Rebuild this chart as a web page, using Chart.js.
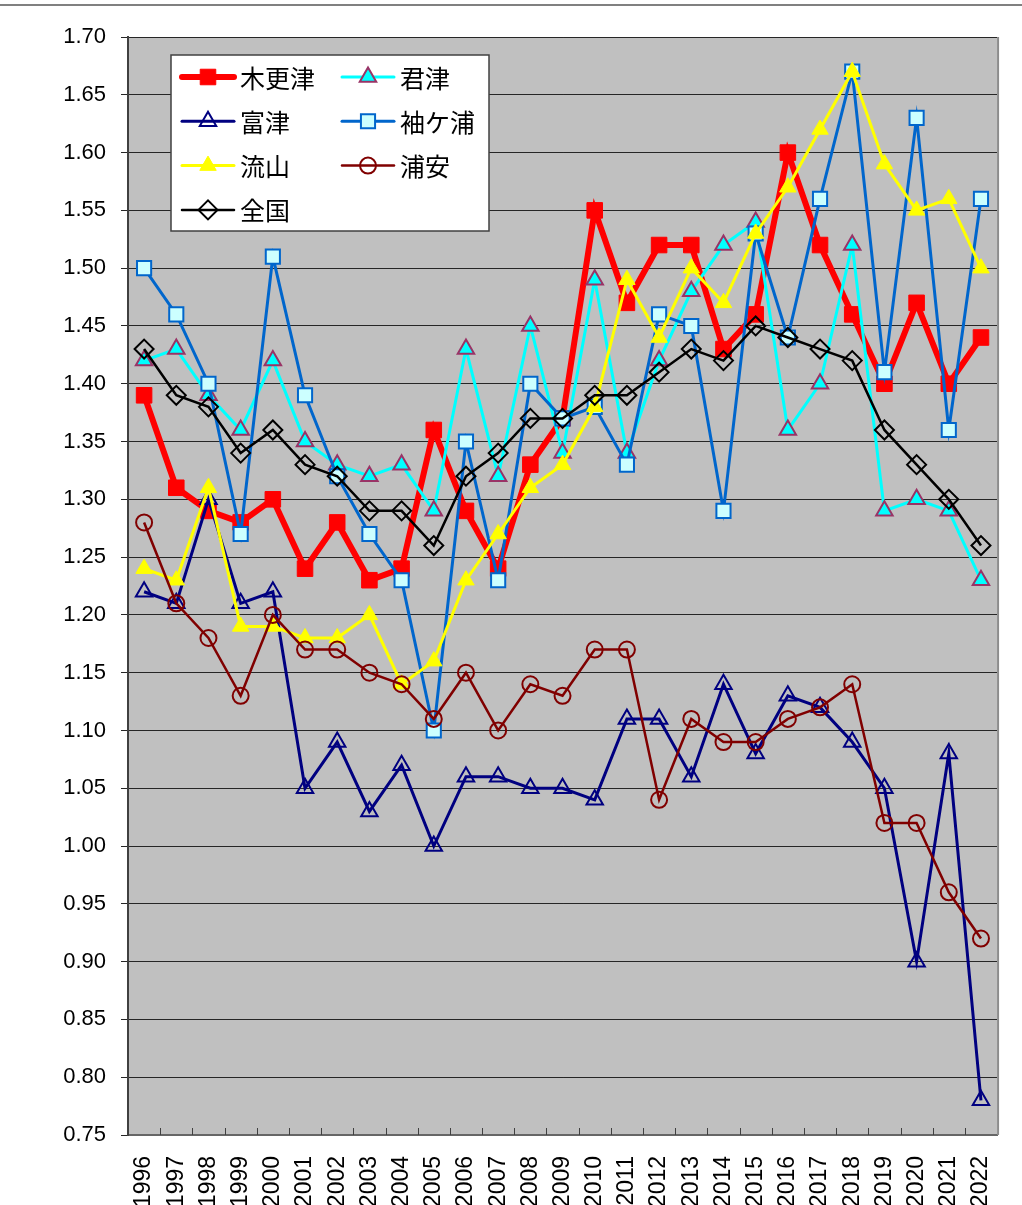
<!DOCTYPE html>
<html lang="ja">
<head>
<meta charset="utf-8">
<title>合計特殊出生率の推移</title>
<script src="https://cdn.jsdelivr.net/npm/chart.js@4.4.0/dist/chart.umd.min.js"></script>
<style>
  html, body { margin: 0; padding: 0; background: #fff; }
  #wrap { position: relative; width: 1022px; height: 1205px; }
</style>
</head>
<body>
<div id="wrap"><canvas id="tfr-chart" width="1022" height="1205"></canvas></div>
<script>
// 年次
const years = ['1996','1997','1998','1999','2000','2001','2002','2003','2004','2005','2006','2007','2008','2009',
               '2010','2011','2012','2013','2014','2015','2016','2017','2018','2019','2020','2021','2022'];

// 合計特殊出生率
const kisarazu  = [1.39,1.31,1.29,1.28,1.30,1.24,1.28,1.23,1.24,1.36,1.29,1.24,1.33,1.37,1.55,1.47,1.52,1.52,1.43,1.46,1.60,1.52,1.46,1.40,1.47,1.40,1.44];
const kimitsu   = [1.42,1.43,1.39,1.36,1.42,1.35,1.33,1.32,1.33,1.29,1.43,1.32,1.45,1.34,1.49,1.34,1.42,1.48,1.52,1.54,1.36,1.40,1.52,1.29,1.30,1.29,1.23];
const futtsu    = [1.22,1.21,1.30,1.21,1.22,1.05,1.09,1.03,1.07,1.00,1.06,1.06,1.05,1.05,1.04,1.11,1.11,1.06,1.14,1.08,1.13,1.12,1.09,1.05,0.90,1.08,0.78];
const sodegaura = [1.50,1.46,1.40,1.27,1.51,1.39,1.32,1.27,1.23,1.10,1.35,1.23,1.40,1.37,1.38,1.33,1.46,1.45,1.29,1.53,1.44,1.56,1.67,1.41,1.63,1.36,1.56];
const nagareyama= [1.24,1.23,1.31,1.19,1.19,1.18,1.18,1.20,1.14,1.16,1.23,1.27,1.31,1.33,1.38,1.49,1.44,1.50,1.47,1.53,1.57,1.62,1.67,1.59,1.55,1.56,1.50];
const urayasu   = [1.28,1.21,1.18,1.13,1.20,1.17,1.17,1.15,1.14,1.11,1.15,1.10,1.14,1.13,1.17,1.17,1.04,1.11,1.09,1.09,1.11,1.12,1.14,1.02,1.02,0.96,0.92];
const zenkoku   = [1.43,1.39,1.38,1.34,1.36,1.33,1.32,1.29,1.29,1.26,1.32,1.34,1.37,1.37,1.39,1.39,1.41,1.43,1.42,1.45,1.44,1.43,1.42,1.36,1.33,1.30,1.26];

// y軸の範囲と目盛
const yMin = 0.75;
const yMax = 1.70;
const yStep = 0.05;

const FONT = "'Noto Sans CJK JP', 'Noto Sans', sans-serif";
const NUM_FONT = "'Liberation Sans', Arial, sans-serif";
Chart.defaults.font.family = FONT;
Chart.defaults.color = '#000';

function series(label, data, color, width, shape, radius, fill, border, borderW) {
    return {
        label: label,
        data: data,
        borderColor: color,
        borderWidth: width,
        pointStyle: shape,
        pointRadius: radius,
        pointHoverRadius: radius,
        pointBackgroundColor: fill,
        pointBorderColor: border,
        pointBorderWidth: borderW,
        tension: 0,
        fill: false
    };
}

const datasets = [
    series('木更津', kisarazu,  '#ff0000', 6,   'rect',     11,  '#ff0000', '#ff0000', 1),
    series('君津',   kimitsu,   '#00ffff', 3,   'triangle', 9.5, '#00ffff', '#993366', 2),
    series('富津',   futtsu,    '#000080', 3,   'triangle', 9.5, 'rgba(0,0,0,0)', '#000080', 2),
    series('袖ケ浦', sodegaura, '#0066cc', 3,   'rect',     10,  '#ccffff', '#0066cc', 2),
    series('流山',   nagareyama,'#ffff00', 3,   'triangle', 9.5, '#ffff00', '#ffff00', 1),
    series('浦安',   urayasu,   '#800000', 2.5, 'circle',   8,   'rgba(0,0,0,0)', '#800000', 2),
    series('全国',   zenkoku,   '#000000', 2.5, 'rectRot',  9.5, 'rgba(0,0,0,0)', '#000000', 2)
];
// 後の系列を上に描く
datasets.forEach((ds, i) => { ds.order = datasets.length - i; });

// プロットエリアの背景
const plotBg = {
    id: 'plotBg',
    beforeDraw(chart) {
        const { ctx, chartArea: a } = chart;
        ctx.save();
        ctx.fillStyle = '#c0c0c0';
        ctx.fillRect(a.left, a.top, a.right - a.left, a.bottom - a.top);
        ctx.restore();
    }
};

function marker(ctx, ds, x, y) {
    ctx.fillStyle = ds.pointBackgroundColor;
    ctx.strokeStyle = ds.pointBorderColor;
    ctx.lineWidth = ds.pointBorderWidth;
    if (Chart.helpers && Chart.helpers.drawPoint) {
        Chart.helpers.drawPoint(ctx, { pointStyle: ds.pointStyle, rotation: 0, radius: ds.pointRadius, borderWidth: ds.pointBorderWidth }, x, y);
    }
}

// 枠、内向き目盛、凡例
const decorations = {
    id: 'decorations',
    afterDraw(chart) {
        const { ctx, chartArea: a } = chart;
        const xs = chart.scales.x;
        ctx.save();

        // 上端の罫線
        ctx.strokeStyle = '#808080';
        ctx.lineWidth = 2;
        ctx.beginPath();
        ctx.moveTo(0, 5); ctx.lineTo(1022, 5);
        ctx.stroke();

        // 右側の枠
        ctx.strokeStyle = '#8c8c8c';
        ctx.lineWidth = 2;
        ctx.beginPath();
        ctx.moveTo(a.right + 1, a.top); ctx.lineTo(a.right + 1, a.bottom);
        ctx.stroke();

        // x軸の目盛 (内向き)
        const step = (a.right - a.left) / years.length;
        ctx.strokeStyle = '#404040';
        ctx.lineWidth = 1;
        ctx.beginPath();
        for (let i = 1; i < years.length; i++) {
            const px = Math.round(xs.getPixelForValue(i) - step / 2) + 0.5;
            ctx.moveTo(px, a.bottom); ctx.lineTo(px, a.bottom - 7);
        }
        ctx.stroke();

        // 凡例
        const bx = 171, by = 55, bw = 318, bh = 176;
        ctx.fillStyle = '#fff';
        ctx.fillRect(bx, by, bw, bh);
        ctx.strokeStyle = '#404040';
        ctx.lineWidth = 1.5;
        ctx.strokeRect(bx, by, bw, bh);

        ctx.font = '25px ' + FONT;
        ctx.textBaseline = 'middle';
        chart.data.datasets.forEach((ds, i) => {
            const col = i % 2, row = Math.floor(i / 2);
            const x0 = col ? 342 : 182;
            const y = 77 + row * 44.3;
            ctx.strokeStyle = ds.borderColor;
            ctx.lineWidth = ds.borderWidth;
            ctx.lineCap = 'round';
            ctx.beginPath();
            ctx.moveTo(x0, y); ctx.lineTo(x0 + 52, y);
            ctx.stroke();
            ctx.lineCap = 'butt';
            marker(ctx, ds, x0 + 26, y);
            ctx.fillStyle = '#000';
            ctx.fillText(ds.label, x0 + 58, y + 1);
        });
        ctx.restore();
    }
};

new Chart(document.getElementById('tfr-chart'), {
    type: 'line',
    data: { labels: years, datasets: datasets },
    options: {
        responsive: false,
        animation: false,
        layout: { padding: { top: 37, right: 23, left: 0, bottom: 0 } },
        plugins: {
            legend: { display: false },
            tooltip: { enabled: false },
            title: { display: false }
        },
        scales: {
            x: {
                type: 'category',
                offset: true,
                grid: { display: false },
                border: { display: true, color: '#666', width: 2 },
                ticks: {
                    autoSkip: false,
                    minRotation: 90,
                    maxRotation: 90,
                    padding: 13,
                    font: { size: 23, family: NUM_FONT },
                    color: '#000'
                },
                afterFit(scale) { scale.height = 70; }
            },
            y: {
                min: yMin,
                max: yMax,
                grid: { color: '#262626', lineWidth: 1, tickLength: 7 },
                border: { display: true, color: '#404040', width: 2 },
                ticks: {
                    stepSize: yStep,
                    padding: 15,
                    font: { size: 22, family: NUM_FONT },
                    color: '#000',
                    callback: v => v.toFixed(2)
                },
                afterFit(scale) { scale.width = 128; }
            }
        }
    },
    plugins: [plotBg, decorations]
});
</script>
</body>
</html>
